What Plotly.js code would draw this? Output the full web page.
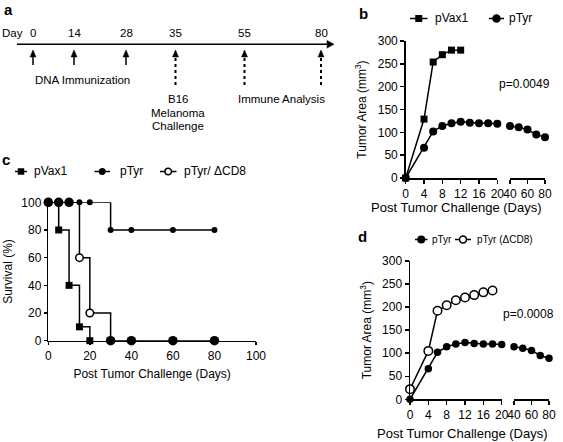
<!DOCTYPE html>
<html>
<head>
<meta charset="utf-8">
<script src="https://cdn.plot.ly/plotly-3.0.1.min.js"></script>
<style>html,body{margin:0;padding:0;background:#fff;}#chart{width:563px;height:442px;}</style>
</head>
<body>
<div id="chart"></div>
<script>
// ---------- DATA ----------
// Panel a: timeline (days)
const timelineDays = [0, 14, 28, 35, 55, 80];
const immunizationDays = [0, 14, 28];
const challengeDays = [35];
const analysisDays = [55, 80];

// Panel b: tumor area (mm^3)
const vaxDays = [0, 4, 6, 8, 10, 12];
const vaxArea = [0, 129, 254, 270, 280, 280];
const tyrDaysEarly = [0, 4, 6, 8, 10, 12, 14, 16, 18, 20];
const tyrAreaEarly = [0, 66, 102, 114, 120, 123, 121, 120, 120, 119];
const tyrDaysLate = [40, 50, 60, 70, 80];
const tyrAreaLate = [114, 111, 106, 95, 89];

// Panel c: survival (%)
const survVaxDays = [0, 5, 10, 15, 20];
const survVax = [100, 80, 40, 10, 0];
const survTyrDays = [0, 5, 10, 15, 20, 30, 40, 60, 80];
const survTyr = [100, 100, 100, 100, 100, 80, 80, 80, 80];
const survCD8Days = [0, 5, 10, 15, 20, 30, 40, 60, 80];
const survCD8 = [100, 100, 100, 60, 20, 0, 0, 0, 0];

// Panel d: tumor area (mm^3)
const cd8Days = [0, 4, 6, 8, 10, 12, 14, 16, 18];
const cd8Area = [22, 105, 192, 204, 215, 221, 226, 232, 236];

// tick labels
const bEarlyTicks = [0, 4, 8, 12, 16, 20];
const bLateTicks = [40, 60, 80];
const areaTicks = [0, 50, 100, 150, 200, 250, 300];
const survTicks = [0, 20, 40, 60, 80, 100];

// ---------- LAYOUT HELPERS ----------
const W = 563, H = 442;
const FONT = 'Arial, "Liberation Sans", Helvetica, sans-serif';
const X = v => v / W;
const Y = v => 1 - v / H;
// schematic pixel positions of the timeline days (panel a)
const timelinePos = {0: 33, 14: 74, 28: 126, 35: 175.5, 55: 244.5, 80: 321};

const axBase = {
  showline: true, linecolor: '#000', linewidth: 1.5,
  ticks: 'outside', ticklen: 4, tickwidth: 1.5, tickcolor: '#000',
  showgrid: false, zeroline: false,
  tickfont: {family: FONT, size: 12, color: '#000'}
};
function ax(o) { return Object.assign({}, axBase, o); }

const lineBlack = {color: '#000', width: 1.5};
const stepLine = {color: '#000', width: 1.5, shape: 'hv'};

// split the ΔCD8 survival points: open circles for intermediate values, filled at 0 / 100
const cd8OpenIdx = survCD8.map((v, i) => i).filter(i => survCD8[i] > 0 && survCD8[i] < 100);
const cd8FillIdx = survCD8.map((v, i) => i).filter(i => !(survCD8[i] > 0 && survCD8[i] < 100));

const traces = [
  // Panel b
  {x: vaxDays, y: vaxArea, xaxis: 'x', yaxis: 'y', mode: 'lines+markers', line: lineBlack,
   marker: {symbol: 'square', size: 7, color: '#000'}, cliponaxis: false, showlegend: false, name: 'pVax1'},
  {x: tyrDaysEarly, y: tyrAreaEarly, xaxis: 'x', yaxis: 'y', mode: 'lines+markers', line: lineBlack,
   marker: {symbol: 'circle', size: 8, color: '#000'}, cliponaxis: false, showlegend: false, name: 'pTyr'},
  {x: tyrDaysLate, y: tyrAreaLate, xaxis: 'x2', yaxis: 'y', mode: 'lines+markers', line: lineBlack,
   marker: {symbol: 'circle', size: 8, color: '#000'}, cliponaxis: false, showlegend: false, name: 'pTyr'},
  // Panel d
  {x: tyrDaysEarly, y: tyrAreaEarly, xaxis: 'x3', yaxis: 'y2', mode: 'lines+markers', line: lineBlack,
   marker: {symbol: 'circle', size: 7.5, color: '#000'}, cliponaxis: false, showlegend: false, name: 'pTyr'},
  {x: tyrDaysLate, y: tyrAreaLate, xaxis: 'x4', yaxis: 'y2', mode: 'lines+markers', line: lineBlack,
   marker: {symbol: 'circle', size: 7.5, color: '#000'}, cliponaxis: false, showlegend: false, name: 'pTyr'},
  {x: cd8Days, y: cd8Area, xaxis: 'x3', yaxis: 'y2', mode: 'lines+markers', line: lineBlack,
   marker: {symbol: 'circle', size: 8.5, color: '#fff', line: {color: '#000', width: 1.5}}, cliponaxis: false, showlegend: false, name: 'pTyr (ΔCD8)'},
  // Panel c
  {x: survVaxDays, y: survVax, xaxis: 'x5', yaxis: 'y3', mode: 'lines+markers', line: stepLine,
   marker: {symbol: 'square', size: 7, color: '#000'}, cliponaxis: false, showlegend: false, name: 'pVax1'},
  {x: survTyrDays, y: survTyr, xaxis: 'x5', yaxis: 'y3', mode: 'lines+markers', line: stepLine,
   marker: {symbol: 'circle', size: 6, color: '#000'}, cliponaxis: false, showlegend: false, name: 'pTyr'},
  {x: survCD8Days, y: survCD8, xaxis: 'x5', yaxis: 'y3', mode: 'lines', line: stepLine,
   cliponaxis: false, showlegend: false, name: 'pTyr/ ΔCD8'},
  {x: cd8FillIdx.map(i => survCD8Days[i]), y: cd8FillIdx.map(i => survCD8[i]), xaxis: 'x5', yaxis: 'y3',
   mode: 'markers', marker: {symbol: 'circle', size: 9.5, color: '#000'},
   cliponaxis: false, showlegend: false, name: 'pTyr/ ΔCD8'},
  {x: cd8OpenIdx.map(i => survCD8Days[i]), y: cd8OpenIdx.map(i => survCD8[i]), xaxis: 'x5', yaxis: 'y3',
   mode: 'markers', marker: {symbol: 'circle', size: 7.5, color: '#fff', line: {color: '#000', width: 1.5}},
   cliponaxis: false, showlegend: false, name: 'pTyr/ ΔCD8'}
];

const shapes = [];
const annotations = [];

function txt(text, x, y, size, opts) {
  annotations.push(Object.assign({text: text, xref: 'paper', yref: 'paper', x: X(x), y: Y(y),
    showarrow: false, font: {family: FONT, size: size, color: '#000'},
    xanchor: 'center', yanchor: 'middle'}, opts || {}));
}
function pline(x0, y0, x1, y1, width, dash) {
  shapes.push({type: 'line', xref: 'paper', yref: 'paper', x0: X(x0), y0: Y(y0), x1: X(x1), y1: Y(y1),
    line: {color: '#000', width: width, dash: dash || 'solid'}});
}
function tri(pts) {
  const p = 'M' + pts.map(q => X(q[0]) + ',' + Y(q[1])).join('L') + 'Z';
  shapes.push({type: 'path', xref: 'paper', yref: 'paper', path: p, fillcolor: '#000', line: {color: '#000', width: 0.5}});
}
function upArrow(x, yTip, yTail, dash) {
  pline(x, yTail, x, yTip + 6, dash ? 2 : 1.5, dash);
  tri([[x - 3, yTip + 7], [x + 3, yTip + 7], [x, yTip]]);
}

// ---- Panel a: timeline ----
txt('<b>a</b>', 2, 9, 15, {xanchor: 'left'});
pline(17, 44.3, 328, 44.3, 1.5);
tri([[327, 40.5], [327, 48.1], [334, 44.3]]);
txt('Day', 12, 33.5, 11.5);
timelineDays.forEach(d => txt(String(d), timelinePos[d], 33.5, 11.5));
immunizationDays.forEach(d => upArrow(timelinePos[d], 50, 65));
challengeDays.concat(analysisDays).forEach(d => upArrow(timelinePos[d], 50, 85, 'dot'));
txt('DNA Immunization', 82, 80, 11.5);
txt('B16', 178, 99, 11.5);
txt('Melanoma', 178, 112.5, 11.5);
txt('Challenge', 178, 126, 11.5);
txt('Immune Analysis', 281.5, 99, 11.5);

// ---- legends (custom glyphs) ----
function legendItem(x0, x1, y, sym, fill, label, textX, size, fs) {
  pline(x0, y, x1, y, 1.5);
  const cx = (x0 + x1) / 2, r = size / 2;
  shapes.push({type: sym === 'square' ? 'rect' : 'circle', xref: 'paper', yref: 'paper',
    x0: X(cx - r), x1: X(cx + r), y0: Y(y + r), y1: Y(y - r),
    fillcolor: fill, line: {color: '#000', width: sym === 'square' ? 0 : 1.5}});
  txt(label, textX, y, fs, {xanchor: 'left'});
}
// panel b
txt('<b>b</b>', 357, 13, 15, {xanchor: 'left'});
legendItem(410, 427.5, 18.5, 'square', '#000', 'pVax1', 433, 7, 12);
legendItem(489, 504, 18.5, 'circle', '#000', 'pTyr', 506.5, 7, 12);
// panel c
txt('<b>c</b>', 0, 159, 15, {xanchor: 'left'});
legendItem(15, 27, 171.5, 'square', '#000', 'pVax1', 31.5, 6.5, 12);
legendItem(94.5, 110, 171.5, 'circle', '#000', 'pTyr', 118, 5.5, 12);
legendItem(160, 176.5, 171.5, 'circle', '#fff', 'pTyr/ ΔCD8', 181.5, 6.5, 12);
// panel d
txt('<b>d</b>', 356, 236, 15, {xanchor: 'left'});
legendItem(415, 427.5, 239.5, 'circle', '#000', 'pTyr', 429.5, 6.5, 10);
legendItem(455, 471, 239.5, 'circle', '#fff', 'pTyr (ΔCD8)', 474.5, 7, 10);

// p-values
txt('p=0.0049', 524, 84, 12);
txt('p=0.0008', 528, 313.5, 12);

// x-axis titles of the broken axes (span both segments)
txt('Post Tumor Challenge (Days)', 456, 207, 13);
txt('Post Tumor Challenge (Days)', 462, 433.5, 13);

const yTitleArea = {text: 'Tumor Area (mm<sup>3</sup>)', font: {family: FONT, size: 12, color: '#000'}, standoff: 8};

const layout = {
  width: W, height: H,
  margin: {l: 0, r: 0, t: 0, b: 0, pad: 0},
  paper_bgcolor: '#fff', plot_bgcolor: 'rgba(0,0,0,0)',
  showlegend: false,
  font: {family: FONT, color: '#000'},
  // panel b
  xaxis: ax({domain: [X(405.7), X(497.3)], range: [0, 20], tickvals: bEarlyTicks, anchor: 'y'}),
  xaxis2: ax({domain: [X(510), X(545)], range: [40, 80], tickvals: bLateTicks, anchor: 'y'}),
  yaxis: ax({domain: [Y(178), Y(41)], range: [0, 300], tickvals: areaTicks, anchor: 'x', title: yTitleArea}),
  // panel d
  xaxis3: ax({domain: [X(410), X(501.7)], range: [0, 20], tickvals: bEarlyTicks, anchor: 'y2'}),
  xaxis4: ax({domain: [X(514), X(549)], range: [40, 80], tickvals: bLateTicks, anchor: 'y2'}),
  yaxis2: ax({domain: [Y(399.3), Y(261)], range: [0, 300], tickvals: areaTicks, anchor: 'x3', title: yTitleArea}),
  // panel c
  xaxis5: ax({domain: [X(48.3), X(256)], range: [0, 100], tickvals: survTicks, anchor: 'y3', ticklen: 3,
    title: {text: 'Post Tumor Challenge (Days)', font: {family: FONT, size: 12, color: '#000'}, standoff: 8}}),
  yaxis3: ax({domain: [Y(340.7), Y(202.3)], range: [0, 100], tickvals: survTicks, anchor: 'x5', ticklen: 3,
    title: {text: 'Survival (%)', font: {family: FONT, size: 12, color: '#000'}, standoff: 6}}),
  shapes: shapes,
  annotations: annotations
};

Plotly.newPlot('chart', traces, layout, {staticPlot: true, displayModeBar: false}).then(() => {
  // drop the empty placeholder title nodes of the untitled axis segments
  document.querySelectorAll('#chart text').forEach(t => { if (!t.textContent.trim()) t.remove(); });
});
</script>
</body>
</html>
